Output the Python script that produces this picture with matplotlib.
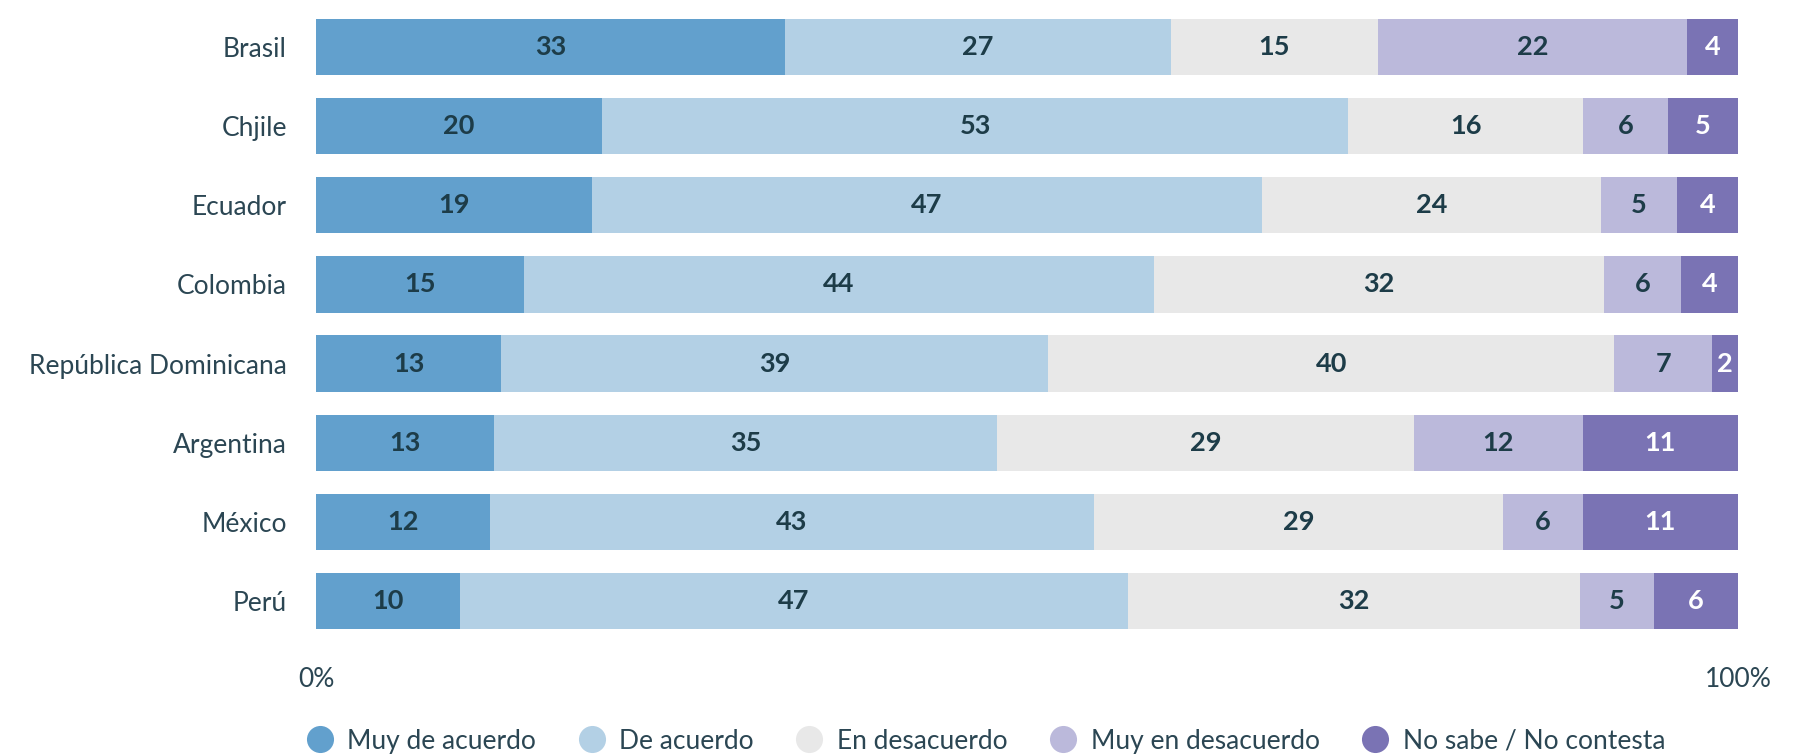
import matplotlib
matplotlib.use("Agg")
import matplotlib.pyplot as plt
from matplotlib.lines import Line2D
import numpy as np

countries = ["Brasil", "Chjile", "Ecuador", "Colombia", "República Dominicana",
             "Argentina", "México", "Perú"]
categories = ["Muy de acuerdo", "De acuerdo", "En desacuerdo",
              "Muy en desacuerdo", "No sabe / No contesta"]

# segment widths (% of bar)
muy_de_acuerdo    = [33.0, 20.1, 19.4, 14.6, 13.0, 12.5, 12.2, 10.1]
de_acuerdo        = [27.1, 52.5, 47.1, 44.3, 38.5, 35.4, 42.5, 47.0]
en_desacuerdo     = [14.6, 16.5, 23.9, 31.7, 39.8, 29.3, 28.8, 31.8]
muy_en_desacuerdo = [21.7,  6.0,  5.3,  5.4,  6.9, 11.9,  5.6,  5.2]
no_sabe           = [ 3.6,  4.9,  4.3,  4.0,  1.8, 10.9, 10.9,  5.9]

# printed labels
lab_muy_de_acuerdo    = [33, 20, 19, 15, 13, 13, 12, 10]
lab_de_acuerdo        = [27, 53, 47, 44, 39, 35, 43, 47]
lab_en_desacuerdo     = [15, 16, 24, 32, 40, 29, 29, 32]
lab_muy_en_desacuerdo = [22, 6, 5, 6, 7, 12, 6, 5]
lab_no_sabe           = [4, 5, 4, 4, 2, 11, 11, 6]

xticks = [0, 100]
xticklabels = ["0%", "100%"]

series = [muy_de_acuerdo, de_acuerdo, en_desacuerdo, muy_en_desacuerdo, no_sabe]
labels = [lab_muy_de_acuerdo, lab_de_acuerdo, lab_en_desacuerdo,
          lab_muy_en_desacuerdo, lab_no_sabe]
colors = ["#62a0cd", "#b3d0e5", "#e8e8e8", "#bbb9db", "#7a73b4"]
txtcolors = ["#1d3c48", "#1d3c48", "#1d3c48", "#1d3c48", "#ffffff"]
dark = "#2b4653"

plt.rcParams['font.family'] = ['Lato', 'DejaVu Sans']

fig = plt.figure(figsize=(18.03, 7.54), dpi=100)
ax = fig.add_axes([0.1753, 0.1504, 0.9639 - 0.1753, 0.9902 - 0.1504])

y = np.arange(len(countries))
left = np.zeros(len(countries))
for vals, labs, c, tc in zip(series, labels, colors, txtcolors):
    vals = np.array(vals, dtype=float)
    ax.barh(y, vals, left=left, height=0.71, color=c, edgecolor='none')
    for yi, (l, v, lab) in enumerate(zip(left, vals, labs)):
        ax.text(l + v / 2, yi, str(lab), ha='center', va='center',
                fontsize=19.5, fontweight='bold', color=tc)
    left += vals

ax.set_ylim(len(countries) - 0.5, -0.5)
ax.set_xlim(0, 100)
ax.set_yticks(y)
ax.set_yticklabels(countries, fontsize=19, color=dark)
ax.set_xticks(xticks)
ax.set_xticklabels(xticklabels, fontsize=19, color=dark)
ax.tick_params(axis='both', length=0)
ax.tick_params(axis='y', pad=21)
ax.tick_params(axis='x', pad=19)
for s in ax.spines.values():
    s.set_visible(False)

handles = [Line2D([], [], marker='o', linestyle='none', markersize=19.5,
                  markerfacecolor=c, markeredgecolor='none') for c in colors]
fig.legend(handles, categories, loc='center left', bbox_to_anchor=(0.170, 0.017),
           ncol=5, frameon=False, fontsize=19, labelcolor=dark,
           handlelength=1.0, handletextpad=0.55, columnspacing=1.6,
           borderpad=0, borderaxespad=0)

fig.savefig("out.png", dpi=100)
